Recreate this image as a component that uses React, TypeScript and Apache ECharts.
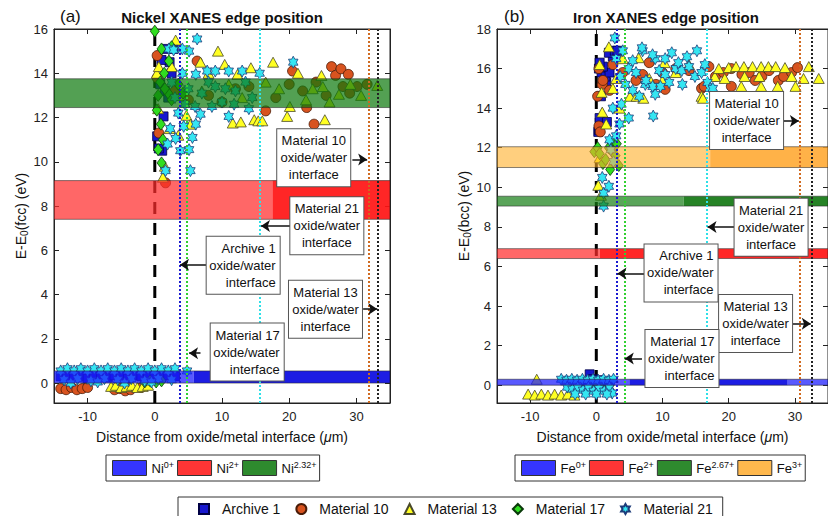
import React, { useEffect, useRef } from "react";
import * as echarts from "echarts";

const FONT = "'Liberation Sans', Arial, Helvetica, sans-serif";

// ---------- tick labels ----------
const xTicks = [-10, 0, 10, 20, 30];
const niYTicks = [0, 2, 4, 6, 8, 10, 12, 14, 16];
const feYTicks = [0, 2, 4, 6, 8, 10, 12, 14, 16, 18];

// ---------- categories ----------
const seriesNames = ["Archive 1", "Material 10", "Material 13", "Material 17", "Material 21"];

// ---------- Nickel panel data [distance µm, E-E0 eV] ----------
const niArchive1 = [
  [-14, 0.3], [-13, 0.25], [-12, 0.35], [-11, 0.3], [-10, 0.2], [-9, 0.35], [-8, 0.3], [-7, 0.25], [-6, 0.35],
  [-5, 0.3], [-4, 0.2], [-3, 0.35], [-2, 0.3], [-1, 0.4], [0, 0.3], [1, 0.25], [2, 0.35], [3, 0.3],
  [1.7, 15.1], [2.8, 15.1], [2.2, 14.5], [2.5, 14.0], [1.0, 14.6], [0.8, 13.5], [1.5, 13.2], [2.0, 12.9],
  [3.0, 13.0], [1.3, 12.05], [0.35, 11.15], [1.1, 10.5], [0.6, 10.6],
];
const niMaterial10 = [
  [-14, -0.25], [-13.2, -0.3], [-12.4, -0.2], [-11.6, -0.3], [-10.8, -0.25], [-10, -0.2], [-6, -0.3],
  [-5.2, -0.25], [-4.4, -0.35], [-3.6, -0.3], [-2, -0.2],
  [0.35, 14.8], [0.35, 13.8], [6.3, 14.55], [0.6, 11.3], [1.6, 9.05], [3, 13.2], [5, 12.8], [8, 13.0],
  [10, 12.7], [12, 13.3], [14, 13.4], [16.5, 12.3], [18, 12.9], [20, 13.5], [20.5, 14.1], [22, 13.2],
  [22.6, 12.45], [23.7, 11.7], [24, 13.6], [25.5, 13.0], [26.3, 14.3], [26.9, 13.9], [27.7, 14.2], [28, 13.4],
  [28.8, 13.95], [29, 13.1], [30.1, 13.4], [31.6, 13.5],
];
const niMaterial13 = [
  [-6.5, -0.15], [-5.8, -0.1], [-5, -0.2], [-4.2, -0.15], [-3.4, -0.1], [-2.6, -0.2], [-1.8, -0.15], [-1, -0.1],
  [0.3, 14.0], [0.6, 14.3], [1.2, 9.3], [1.5, 9.8], [0.5, 12.4], [2.2, 11.5], [2.5, 14.3], [3.1, 15.5],
  [3.5, 11.2], [4, 13.0], [4.7, 12.1], [5.3, 11.7], [6.8, 14.5], [7, 13.2], [8, 14.0], [9.4, 15.0],
  [10.4, 14.4], [11, 13.5], [11.6, 11.75], [12.3, 13.95], [12.8, 11.8], [13, 12.9], [14.3, 14.25],
  [14.8, 11.9], [15.4, 11.85], [16, 11.85], [16.5, 13.6], [17.6, 14.5], [18.5, 13.3], [19.7, 12.05],
  [20.1, 12.5], [21.3, 14.0], [22.5, 12.8], [23.5, 13.3], [24.8, 13.9], [25, 13.4], [25.3, 11.9], [26, 12.7],
  [27.4, 13.05], [29.1, 13.5], [30.7, 13.0], [33.1, 13.45],
];
const niMaterial17 = [
  [-1.5, 0.05], [-0.7, 0.1], [0.2, 0.05], [1, 0.1],
  [0, 15.9], [1.0, 15.1], [2.5, 15.2], [2.1, 14.55], [1.4, 14.0], [0.8, 13.6], [0.5, 13.0], [2, 13.1],
  [1.5, 13.3], [3.5, 13.5], [4.2, 13.1], [2.5, 12.8], [0.3, 12.33], [0.9, 11.7], [1.2, 11.0], [0.5, 10.55],
  [1.0, 9.95],
];
const niMaterial21 = [
  [-14, 0.55], [-13, 0.65], [-12, 0.55], [-11, 0.65], [-10, 0.55], [-9, 0.65], [-8, 0.55], [-7, 0.65],
  [-6, 0.55], [-5, 0.65], [-4, 0.55], [-3, 0.65], [-2, 0.55], [-1, 0.65], [0, 0.55], [1, 0.65], [2, 0.55],
  [3, 0.65], [4.8, 0.55],
  [-13.5, 0.15], [-11.5, 0.2], [-9.5, 0.1], [-7.5, 0.2], [-5.5, 0.15], [-3.5, 0.2], [-1.5, 0.1], [0.5, 0.2],
  [2.5, 0.15], [-12.5, 0], [-8.5, 0.05], [-4.5, 0], [-0.5, 0.05],
  [6.3, 15.55], [5.1, 15.0], [4.1, 15.1], [2.1, 15.1], [2.8, 15.05], [7.8, 14.1], [9.0, 14.1], [11, 14.1],
  [13, 14.1], [15.6, 14.0], [6.1, 13.95], [4.1, 14.0], [20.6, 14.5], [2.5, 13.6], [8, 13.6], [13.5, 13.6],
  [5, 13.3], [9, 13.4], [10.5, 13.3], [3, 12.9], [7, 13.1], [12, 13.2], [14.5, 12.9], [10, 12.7],
  [11.8, 12.6], [4.5, 12.6], [6, 12.5], [8.5, 12.5], [14, 12.4], [3.5, 12.2], [11, 12.05], [6.8, 12.15],
  [6.1, 11.7], [4.3, 11.6], [2.3, 11.5], [5.6, 11.1], [3.1, 11.05], [1.9, 10.8], [5.1, 10.55], [3.8, 10.5],
  [1.6, 9.6], [5.3, 9.6],
];

// ---------- Iron panel data ----------
const feArchive1 = [
  [-1.5, 0.1], [-1, 0.55], [-0.5, 0.3], [0.2, 0.25], [0.8, 0.2],
  [0.3, 12.8], [0.4, 12.9], [0.5, 13.5], [1.6, 13.3], [0.7, 14.6], [1.2, 15.5], [1.5, 15.3], [0.4, 16.0],
  [0.8, 15.8], [1.4, 15.6], [2, 15.8], [1.0, 16.1], [0.5, 16.3], [2.5, 16.6], [1.9, 16.8], [2.8, 16.9],
  [3.2, 16.9],
];
const feMaterial10 = [
  [0.4, 16.0], [0.9, 15.2], [0.2, 14.6], [0.4, 13.1], [0.6, 12.8], [1.0, 15.4], [2, 14.9], [2.5, 16.2],
  [4, 15.8], [6, 15.4], [7, 15.7], [8, 16.3], [9, 15.2], [10, 15.8], [10.4, 14.95], [12, 16.0], [14, 15.9],
  [15.9, 15.0], [16.3, 15.1], [17, 16.1], [18, 15.6], [19.2, 15.8], [20.4, 16.0], [20.4, 15.1], [22, 15.7],
  [23.1, 15.8], [24, 15.4], [25, 15.6], [26.1, 15.9], [27.5, 15.4], [28.3, 15.6], [29.5, 15.8], [30.4, 16.05],
];
const feMaterial13 = [
  [-10.3, -0.45], [-9.3, -0.5], [-8.3, -0.45], [-7.3, -0.5], [-6.3, -0.45], [-5.3, -0.5], [-4.3, -0.45],
  [-3.3, -0.5], [-9, 0.3],
  [0.3, 10.1], [0.7, 9.6], [0.5, 11.5], [1.5, 13.2], [0.9, 13.8], [3.5, 14.0], [0.8, 14.8], [2.5, 15.0],
  [3, 15.5], [0.5, 16.2], [4, 16.5], [1.9, 17.1], [6.4, 16.55], [5.1, 14.6], [6.1, 14.6], [7.1, 14.5],
  [8, 15.5], [10, 15.4], [10.3, 16.3], [12, 15.8], [14, 16.2], [15.9, 14.6], [16.1, 14.5], [17.9, 15.6],
  [18.5, 16.0], [19.4, 15.5], [20, 16.05], [21.1, 16.1], [21.9, 15.1], [22.3, 16.1], [22.4, 15.6],
  [23.6, 16.1], [24.6, 15.6], [24.9, 16.1], [24.9, 15.1], [26, 16.1], [27.1, 16.1], [27.4, 15.1],
  [28.5, 16.05], [29.5, 15.6], [30.1, 15.1], [31.3, 15.5], [32.1, 16.1], [33.6, 15.5],
];
const feMaterial17 = [
  [-1, 0.0], [0, 0.1], [1, 0.05], [2, 0.0],
  [-0.3, 11.8], [0.2, 12.0], [0.5, 11.7], [1.0, 11.2], [1.4, 11.4], [1.9, 12.0], [2.1, 10.9], [2.4, 11.8],
  [2.7, 12.3], [2.9, 11.6], [3.1, 12.2], [3.4, 11.1],
];
const feMaterial21 = [
  [-5.3, 0.3], [-4.5, 0.25], [-3.7, 0.3], [-2.9, 0.25], [-2.1, 0.3], [-1.3, 0.25], [-0.5, 0.3], [0.3, 0.25],
  [1.1, 0.3], [1.9, 0.25], [2.6, 0.3], [-4.4, -0.1], [-3.6, -0.2], [-2.8, -0.1], [-2, -0.25], [-1.2, -0.1],
  [-0.4, -0.3], [0.4, -0.15], [1.2, -0.3], [2, -0.1], [2.4, -0.4], [-3.2, -0.45], [-1.6, -0.45], [0, -0.45],
  [1.6, -0.45],
  [1.1, 9.05], [1.1, 9.7], [1.9, 10.05], [0.9, 10.5], [2.6, 11.3], [2.2, 11.9], [2, 12.4], [3, 12.6],
  [3.5, 13.2], [4.9, 13.5], [8.6, 13.6], [2.5, 14.0], [3.8, 14.2], [6.5, 14.6], [8.9, 14.7], [5.5, 14.9],
  [8.5, 15.1], [9.7, 15.1], [4.4, 15.2], [7.4, 15.2], [3.6, 15.6], [7.5, 15.4], [11, 15.3], [13, 15.2],
  [4.9, 16.0], [6, 15.8], [9.5, 15.9], [10.4, 15.7], [12, 16.0], [12.9, 15.9], [14.9, 15.6], [15.9, 15.8],
  [16.8, 15.3], [17.2, 15.0], [17.6, 15.0], [14, 16.1], [16.4, 16.2], [12.4, 16.3], [5.5, 16.4], [3, 16.5],
  [8.9, 16.5], [10.4, 16.5], [13.7, 16.6], [8.5, 16.7], [11.4, 16.8], [4, 16.9], [7, 16.9], [15.2, 16.9],
  [6.9, 17.05], [2.8, 17.55],
];

// ---------- reference bands (E-E0 ranges) ----------
const niBandNames = ["Ni0+", "Ni2+", "Ni2.32+"];
const niBandLow = [0, 7.4, 12.45];
const niBandHigh = [0.55, 9.15, 13.75];
const niBandSplits = [[5.8], [17.5], []];
const feBandNames = ["Fe0+", "Fe2+", "Fe2.67+", "Fe3+"];
const feBandLow = [0, 6.4, 9.05, 11.0];
const feBandHigh = [0.3, 6.9, 9.55, 12.05];
const feBandSplits = [[5, 28.9], [0.5], [13.2], [17.2]];

// ---------- oxide/water interface positions (per series) ----------
const niInterfaceX = [3.7, 31.8, 33.2, 4.7, 15.6];
const feInterfaceX = [3.1, 30.8, 32.5, 4.3, 16.7];

// ---------- annotation placement ----------
const niLabelAt = [[13.15, 5.32], [23.65, 10.18], [25.4, 3.34], [13.75, 1.4], [25.6, 7.11]];
const niArrowY = [5.35, 10.1, 3.35, 1.35, 7.1];
const niArrowFrom = [7.65, 29.4, 31.0, 6.8, 20.2];
const niArrowTo = [3.75, 31.6, 33.1, 5.1, 15.8];
const feLabelAt = [[12.8, 5.67], [22.7, 13.37], [24.06, 3.12], [12.94, 1.35], [26.4, 7.98]];
const feArrowY = [5.65, 13.35, 3.1, 1.35, 8.0];
const feArrowFrom = [7.3, 28.3, 29.7, 6.9, 20.9];
const feArrowTo = [3.2, 30.6, 32.4, 4.3, 16.8];
const labelAlign = ["r", "c", "c", "r", "c"];

// ---------- styles ----------
const HEX =
  "path://M100,0L128.9,50L186.6,50L157.7,100L186.6,150L128.9,150L100,200L71.1,150L13.4,150L42.3,100L13.4,50L71.1,50Z";
const markerSymbols = ["rect", "circle", "triangle", "diamond", HEX];
const markerSizes: any[] = [9, 10, [11, 10], [9, 12], [11, 12]];
const markerColors = ["#1717cf", "#d8531f", "#ffff22", "#30dd20", "#35e6f2"];
const markerBorders = ["#000044", "#4a1c08", "#4a4a2a", "#0a3a0a", "#1d3c7a"];
const lineColors = ["#1a1ad0", "#d06a20", "#222222", "#30d030", "#2ee0e8"];
const niBandFills = [
  ["rgba(25,25,255,0.72)", "rgba(10,10,225,0.92)"],
  ["rgba(255,45,45,0.72)", "rgba(255,20,20,0.92)"],
  ["rgba(10,120,10,0.7)"],
];
const feBandFills = [
  ["rgba(25,25,255,0.72)", "rgba(10,10,225,0.92)", "rgba(25,25,255,0.72)"],
  ["rgba(255,45,45,0.72)", "rgba(255,20,20,0.92)"],
  ["rgba(20,125,20,0.7)", "rgba(20,120,20,0.92)"],
  ["rgba(255,175,40,0.6)", "rgba(255,165,40,0.85)"],
];
const niLegendColors = ["#3535ff", "#ff3535", "#2e8b2e"];
const feLegendColors = ["#3535ff", "#ff3535", "#2e8b2e", "#ffb84d"];

const X_MIN = -15;
const X_MAX = 35;
const Y_MIN = -0.9;

function axisBase(extra: any) {
  return {
    type: "value",
    axisLine: { show: true, onZero: false, lineStyle: { color: "#222", width: 1 } },
    splitLine: { show: false },
    ...extra,
  };
}

function makeX(gridIndex: number, position: string, showLabels: boolean) {
  return axisBase({
    gridIndex,
    position,
    min: X_MIN,
    max: X_MAX,
    axisTick: { show: true, inside: true, length: 5, customValues: xTicks, lineStyle: { color: "#222" } },
    axisLabel: {
      show: showLabels,
      customValues: xTicks,
      fontSize: 13,
      color: "#222",
      fontFamily: FONT,
      margin: 7,
    },
    name: showLabels ? "Distance from oxide/metal interface ({i|\u03bc}m)" : "",
    nameLocation: "middle",
    nameGap: 27,
    nameTextStyle: {
      fontSize: 14,
      color: "#111",
      fontFamily: FONT,
      rich: { i: { fontStyle: "italic", fontSize: 14, fontFamily: FONT, color: "#111" } },
    },
  });
}

function makeY(gridIndex: number, position: string, showLabels: boolean, max: number, ticks: number[], ref: string) {
  return axisBase({
    gridIndex,
    position,
    min: Y_MIN,
    max,
    axisTick: { show: true, inside: true, length: 5, customValues: ticks, lineStyle: { color: "#222" } },
    axisLabel: {
      show: showLabels,
      customValues: ticks,
      fontSize: 13,
      color: "#222",
      fontFamily: FONT,
      margin: 6,
    },
    name: showLabels ? "E-E{sub|0}(" + ref + ") (eV)" : "",
    nameLocation: "middle",
    nameRotate: 90,
    nameGap: 25,
    nameTextStyle: {
      fontSize: 14,
      color: "#111",
      fontFamily: FONT,
      rich: { sub: { fontSize: 10, fontFamily: FONT, color: "#111", verticalAlign: "bottom", padding: [7, 0, 0, 0] } },
    },
  });
}

function scatterSeries(idx: number, data: number[][], axis: number) {
  return {
    type: "scatter",
    name: seriesNames[idx],
    xAxisIndex: axis,
    yAxisIndex: axis,
    data,
    symbol: markerSymbols[idx],
    symbolSize: markerSizes[idx],
    symbolKeepAspect: true,
    itemStyle: { color: markerColors[idx], borderColor: markerBorders[idx], borderWidth: 0.8, opacity: 1 },
    z: 2,
    silent: true,
  };
}

function bandSeries(name: string, axis: number, lo: number, hi: number, splits: number[], fills: string[], legendColor: string) {
  return {
    type: "custom",
    name,
    xAxisIndex: axis,
    yAxisIndex: axis,
    z: 3,
    silent: true,
    clip: true,
    itemStyle: { color: legendColor },
    data: [[lo, hi]],
    renderItem: (params: any, api: any) => {
      const y0 = api.value(0);
      const y1 = api.value(1);
      const edges = [X_MIN, ...splits, X_MAX];
      const children: any[] = [];
      for (let i = 0; i < edges.length - 1; i++) {
        const a = api.coord([edges[i], y1]);
        const b = api.coord([edges[i + 1], y0]);
        children.push({
          type: "rect",
          shape: { x: a[0], y: a[1], width: b[0] - a[0], height: b[1] - a[1] },
          style: { fill: fills[i] },
        });
      }
      const a = api.coord([X_MIN, y1]);
      const b = api.coord([X_MAX, y0]);
      children.push({
        type: "rect",
        shape: { x: a[0], y: a[1], width: b[0] - a[0], height: b[1] - a[1] },
        style: { fill: "none", stroke: "rgba(40,40,40,0.7)", lineWidth: 0.8 },
      });
      return { type: "group", children };
    },
  };
}

function guideSeries(axis: number, yMax: number, interfaceX: number[]) {
  return {
    type: "line",
    xAxisIndex: axis,
    yAxisIndex: axis,
    data: [
      [0, Y_MIN],
      [0, yMax],
    ],
    symbol: "none",
    silent: true,
    z: 1,
    lineStyle: { color: "#000", width: 3, type: [12, 9] },
    markLine: {
      silent: true,
      symbol: "none",
      z: 5,
      label: { show: false },
      data: interfaceX.map((x, i) => ({
        xAxis: x,
        lineStyle: { color: lineColors[i], type: "dotted", width: 2 },
      })),
    },
  };
}

function annotationSeries(axis: number, at: number[][], ay: number[], from: number[], to: number[]) {
  const rich = {
    c: { width: 65, align: "center", fontSize: 13, lineHeight: 17, fontFamily: FONT, color: "#111" },
    r: { width: 65, align: "right", fontSize: 13, lineHeight: 17, fontFamily: FONT, color: "#111" },
  };
  return {
    type: "scatter",
    xAxisIndex: axis,
    yAxisIndex: axis,
    data: [],
    silent: true,
    markLine: {
      silent: true,
      z: 7,
      symbol: ["none", "arrow"],
      symbolSize: 9,
      label: { show: false },
      lineStyle: { color: "#111", width: 1.5, type: "solid" },
      data: ay.map((y, i) => [{ coord: [from[i], y] }, { coord: [to[i], y] }]),
    },
    markPoint: {
      silent: true,
      z: 8,
      symbol: "rect",
      symbolSize: 1,
      itemStyle: { color: "rgba(0,0,0,0)" },
      label: {
        show: true,
        position: "inside",
        color: "#111",
        fontFamily: FONT,
        fontSize: 13,
        lineHeight: 17,
        backgroundColor: "#fff",
        borderColor: "#555",
        borderWidth: 1,
        padding: [3, 4, 3, 4],
        rich,
      },
      data: at.map((p, i) => {
        const k = labelAlign[i];
        return {
          coord: p,
          label: {
            formatter: "{" + k + "|" + seriesNames[i] + "}\n{" + k + "|oxide/water}\n{" + k + "|interface}",
          },
        };
      }),
    },
  };
}

const supFormatter = (n: string) => n.replace(/^([A-Z][a-z])(.*)$/, "$1{sup|$2}");

function bandLegend(names: string[], left: number) {
  return {
    data: names,
    left,
    top: 455,
    orient: "horizontal",
    icon: "rect",
    itemWidth: 34,
    itemHeight: 15,
    itemGap: 3,
    padding: [5, 3, 5, 6],
    borderColor: "#333",
    borderWidth: 1,
    selectedMode: false,
    itemStyle: { borderColor: "#333", borderWidth: 1 },
    formatter: supFormatter,
    textStyle: {
      fontSize: 13,
      color: "#111",
      fontFamily: FONT,
      rich: { sup: { fontSize: 9, fontFamily: FONT, color: "#111", verticalAlign: "top", padding: [0, 0, 6, 0] } },
    },
  };
}

export default function App() {
  const ref = useRef<HTMLDivElement>(null);
  useEffect(() => {
    if (!ref.current) return;
    const chart = echarts.init(ref.current, null, { renderer: "svg", width: 828, height: 516 });
    const niSets = [niArchive1, niMaterial10, niMaterial13, niMaterial17, niMaterial21];
    const feSets = [feArchive1, feMaterial10, feMaterial13, feMaterial17, feMaterial21];
    const series: any[] = [];
    series.push(guideSeries(0, 16, niInterfaceX));
    series.push(guideSeries(2, 18, feInterfaceX));
    niSets.forEach((d, i) => series.push(scatterSeries(i, d, 0)));
    feSets.forEach((d, i) => series.push(scatterSeries(i, d, 2)));
    niBandNames.forEach((n, i) =>
      series.push(bandSeries(n, 0, niBandLow[i], niBandHigh[i], niBandSplits[i], niBandFills[i], niLegendColors[i]))
    );
    feBandNames.forEach((n, i) =>
      series.push(bandSeries(n, 2, feBandLow[i], feBandHigh[i], feBandSplits[i], feBandFills[i], feLegendColors[i]))
    );
    series.push(annotationSeries(0, niLabelAt, niArrowY, niArrowFrom, niArrowTo));
    series.push(annotationSeries(2, feLabelAt, feArrowY, feArrowFrom, feArrowTo));

    const option: any = {
      animation: false,
      backgroundColor: "#ffffff",
      textStyle: { fontFamily: FONT },
      grid: [
        { left: 54, top: 29, width: 336, height: 374, show: true, borderColor: "#222", borderWidth: 1, backgroundColor: "#fff" },
        { left: 497, top: 29, width: 336, height: 374, show: true, borderColor: "#222", borderWidth: 1, backgroundColor: "#fff" },
      ],
      xAxis: [makeX(0, "bottom", true), makeX(0, "top", false), makeX(1, "bottom", true), makeX(1, "top", false)],
      yAxis: [
        makeY(0, "left", true, 16, niYTicks, "fcc"),
        makeY(0, "right", false, 16, niYTicks, "fcc"),
        makeY(1, "left", true, 18, feYTicks, "bcc"),
        makeY(1, "right", false, 18, feYTicks, "bcc"),
      ],
      legend: [
        bandLegend(niBandNames, 106),
        bandLegend(feBandNames, 515),
        {
          data: seriesNames,
          left: 178,
          top: 497,
          orient: "horizontal",
          itemWidth: 10,
          itemHeight: 10,
          itemGap: 15,
          padding: [5, 10, 5, 20],
          borderColor: "#333",
          borderWidth: 1,
          selectedMode: false,
          textStyle: { fontSize: 14, color: "#111", fontFamily: FONT, padding: [0, 0, 0, 8] },
        },
      ],
      graphic: [
        {
          type: "text",
          x: 222,
          y: 17,
          style: {
            text: "Nickel XANES edge position",
            font: "bold 15px " + FONT,
            fill: "#111",
            align: "center",
            verticalAlign: "middle",
            textAlign: "center",
            textVerticalAlign: "middle",
          },
        },
        {
          type: "text",
          x: 666,
          y: 17,
          style: {
            text: "Iron XANES edge position",
            font: "bold 15px " + FONT,
            fill: "#111",
            align: "center",
            verticalAlign: "middle",
            textAlign: "center",
            textVerticalAlign: "middle",
          },
        },
        {
          type: "text",
          x: 60,
          y: 16,
          style: { text: "(a)", font: "17px " + FONT, fill: "#111", verticalAlign: "middle", textVerticalAlign: "middle" },
        },
        {
          type: "text",
          x: 504,
          y: 16,
          style: { text: "(b)", font: "17px " + FONT, fill: "#111", verticalAlign: "middle", textVerticalAlign: "middle" },
        },
      ],
      series,
    };
    chart.setOption(option);
    return () => chart.dispose();
  }, []);
  return (
    <div
      ref={ref}
      style={{ position: "fixed", left: 0, top: 0, width: 828, height: 516, background: "#fff" }}
    />
  );
}
